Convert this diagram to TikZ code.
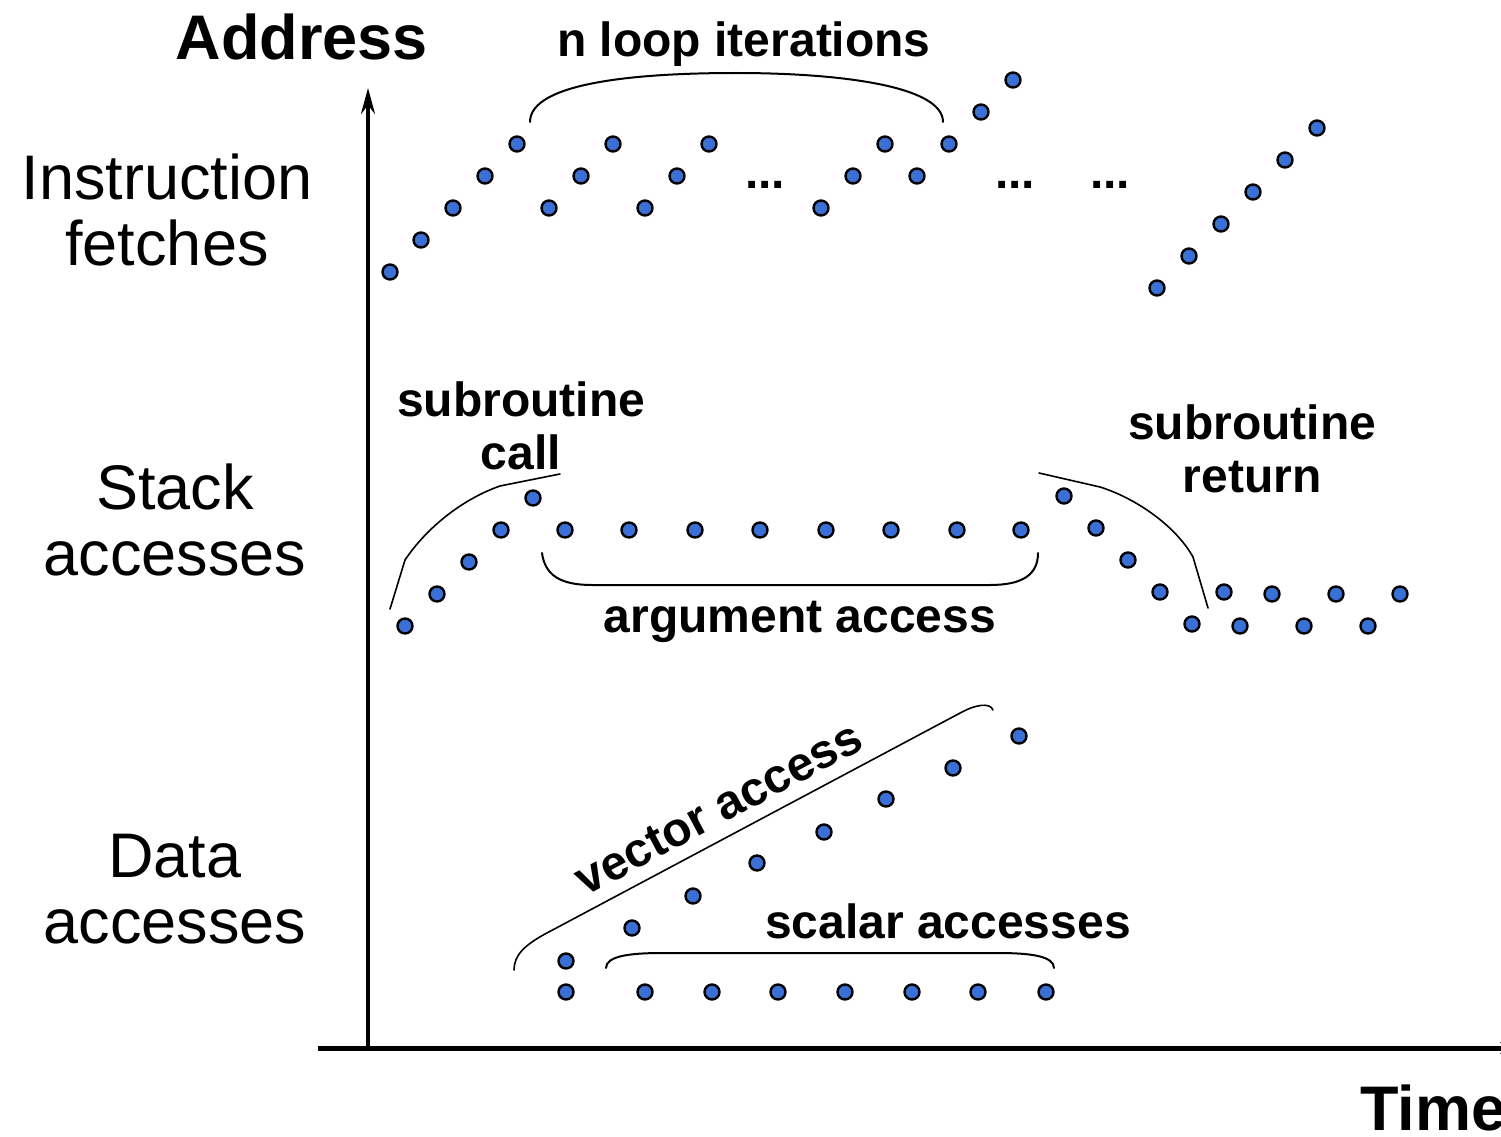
\documentclass[tikz,border=0pt]{standalone}
\usepackage{fontspec}
\setmainfont{Liberation Sans}
\usetikzlibrary{arrows.meta}
\definecolor{dotblue}{RGB}{58,112,214}
\begin{document}
\begin{tikzpicture}[x=1pt,y=-1pt,
  dot/.style={circle,draw=black,line width=2.4pt,fill=dotblue,minimum size=15pt,inner sep=0pt},
  lab/.style={font=\fontsize{63}{66}\selectfont,align=center,anchor=base,inner sep=0pt},
  blab/.style={font=\bfseries\fontsize{48}{53}\selectfont,align=center,anchor=base,inner sep=0pt},
  big/.style={font=\bfseries\fontsize{63}{66}\selectfont,anchor=base,inner sep=0pt},
  brace/.style={line width=2pt,line cap=round},
  thinbrace/.style={line width=1.6pt,line cap=round}]
\useasboundingbox (0,0) rectangle (1501,1137);

% axes
\coordinate (origin) at (368,1048);
\coordinate (ytop) at (368,88);
\coordinate (xleft) at (318,1048);
\coordinate (xend) at (1512,1048);
\draw[line width=4pt,-{Stealth[length=26pt,width=14pt,inset=9pt]}] (origin) -- (ytop);
\draw[line width=5pt,-{Stealth[length=12pt,width=12pt,inset=4pt]}] (xleft) -- (xend);

% axis labels
\node[big] (address) at (302,60) {Address};
\node[big,anchor=base west] (time) at (1360,1130) {Time};

% row labels (base anchor = baseline of the last line)
\node[lab] (instr) at (167,265) {Instruction\\fetches};
\node[lab] (stack) at (175,575) {Stack\\accesses};
\node[lab] (data) at (175,943) {Data\\accesses};

% instruction fetch dots
\foreach \x/\y [count=\n] in {390/272,421/240,453/208,485/176,517/144,549/208,581/176,613/144,645/208,677/176,709/144,
  821/208,853/176,885/144,917/176,949/144,981/112,1013/80,
  1157/288,1189/256,1221/224,1253/192,1285/160,1317/128}
  \node[dot] (i\n) at (\x,\y) {};
\node[blab] (dotsA) at (765,188) {...};
\node[blab] (dotsB) at (1015,188) {...};
\node[blab] (dotsC) at (1110,188) {...};

% loop brace
\draw[brace] (530,122) .. controls (530,82) and (640,73) .. (736,73)
   .. controls (840,73) and (943,86) .. (943,122);
\node[blab] (loop) at (744,57) {n loop iterations};

% stack dots
\foreach \x/\y [count=\n] in {405/626,437/594,469/562,501/530,533/498,565/530,629/530,695/530,760/530,826/530,891/530,957/530,1021/530,
  1064/496,1096/528,1128/560,1160/592,1192/624,1224/592,1240/626,1272/594,1304/626,1336/594,1368/626,1400/594}
  \node[dot] (s\n) at (\x,\y) {};

% subroutine call
\draw[thinbrace] (390,609) -- (405,560) .. controls (425,530) and (460,500) .. (500,486) -- (560,474);
\node[blab] (call) at (521,469) {subroutine\\call};

% argument access
\draw[brace] (542,553) .. controls (545,575) and (560,585) .. (592,585) -- (990,585)
   .. controls (1022,585) and (1038,575) .. (1038,553);
\node[blab] (arg) at (800,632) {argument access};

% subroutine return
\draw[thinbrace] (1039,473) -- (1100,487) .. controls (1135,498) and (1175,525) .. (1193,557) -- (1208,608);
\node[blab] (ret) at (1252,492) {subroutine\\return};

% data dots
\foreach \x/\y [count=\n] in {566/961,632/928,693/896,757/863,824/832,886/799,953/768,1019/736}
  \node[dot] (v\n) at (\x,\y) {};
\foreach \x [count=\n] in {566,645,712,778,845,912,978,1046}
  \node[dot] (d\n) at (\x,992) {};

% vector brace
\draw[thinbrace] (514,970) .. controls (514,955) and (525,945) .. (545,934) -- (962,712)
   .. controls (975,705) and (990,702) .. (993,710);
\node[blab,rotate=28] (vec) at (726,822) {vector access};

% scalar brace
\draw[brace] (606,968) .. controls (606,956) and (630,953) .. (662,953) -- (998,953)
   .. controls (1030,953) and (1054,956) .. (1054,968);
\node[blab] (scal) at (948,938) {scalar accesses};
\end{tikzpicture}
\end{document}
